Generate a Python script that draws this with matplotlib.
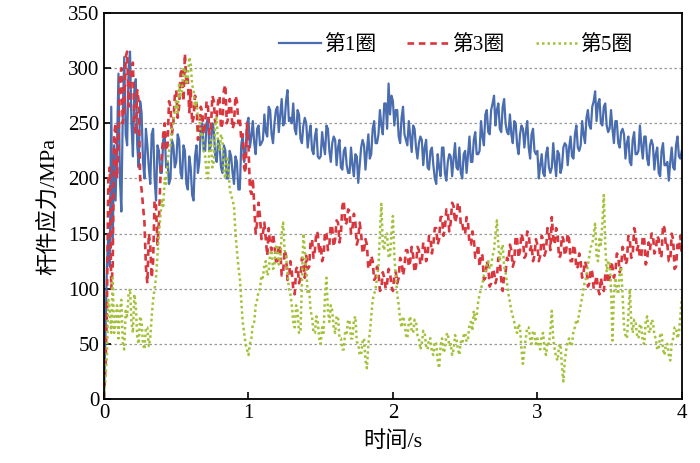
import numpy as np
import matplotlib
matplotlib.use("Agg")
import matplotlib.pyplot as plt

# valeurs lues sur la figure, pas de 0.01 s
temps = np.linspace(0, 4, 401)

quan1 = [0, 60, 120, 150, 120, 265, 140, 230, 180, 230,
         295, 200, 170, 260, 310, 240, 230, 300, 315, 250,
         220, 280, 290, 230, 210, 270, 260, 215, 200, 245,
         230, 210, 195, 240, 245, 200, 180, 230, 225, 205,
         205, 235, 240, 210, 215, 195, 200, 235, 230, 210,
         215, 240, 235, 205, 200, 230, 225, 195, 190, 220,
         210, 185, 180, 220, 230, 205, 215, 245, 250, 225,
         225, 250, 255, 225, 230, 250, 245, 220, 215, 235,
         230, 210, 205, 230, 225, 200, 200, 225, 220, 205,
         195, 220, 215, 190, 190, 230, 240, 215, 225, 250,
         255, 228, 238, 252, 232, 222, 245, 248, 230, 232,
         235, 258, 242, 238, 265, 262, 240, 232, 250, 262,
         265, 242, 258, 272, 248, 250, 270, 280, 252, 255,
         250, 268, 245, 240, 262, 258, 236, 232, 248, 255,
         250, 228, 240, 248, 226, 222, 238, 245, 220, 218,
         220, 242, 230, 222, 248, 245, 225, 215, 232, 238,
         235, 212, 228, 235, 210, 208, 225, 228, 212, 205,
         205, 228, 212, 202, 222, 220, 196, 212, 228, 235,
         230, 208, 225, 240, 218, 222, 245, 252, 232, 232,
         240, 262, 248, 240, 268, 268, 245, 286, 258, 275,
         270, 248, 262, 262, 238, 232, 255, 265, 240, 235,
         230, 252, 238, 224, 248, 245, 228, 218, 232, 238,
         235, 212, 228, 235, 210, 208, 225, 228, 212, 200,
         195, 222, 210, 202, 228, 228, 205, 198, 215, 222,
         220, 202, 218, 232, 210, 208, 228, 205, 200, 222,
         225, 205, 222, 238, 215, 215, 235, 242, 222, 222,
         225, 252, 238, 230, 258, 262, 242, 240, 262, 268,
         275, 248, 262, 268, 245, 242, 265, 272, 250, 242,
         240, 258, 240, 232, 252, 250, 230, 222, 240, 248,
         245, 228, 242, 252, 228, 218, 240, 245, 225, 222,
         225, 200, 212, 222, 205, 202, 222, 228, 210, 205,
         210, 232, 215, 202, 225, 222, 205, 210, 228, 232,
         230, 212, 228, 238, 220, 218, 240, 248, 228, 225,
         230, 252, 240, 232, 255, 262, 248, 245, 265, 270,
         279, 252, 268, 272, 250, 248, 265, 268, 248, 242,
         245, 262, 245, 232, 252, 252, 232, 228, 242, 245,
         240, 218, 232, 238, 215, 212, 235, 242, 222, 222,
         225, 248, 230, 218, 238, 238, 218, 212, 230, 235,
         230, 208, 222, 228, 205, 202, 225, 232, 212, 212,
         215, 198, 215, 228, 210, 208, 230, 238, 220, 218,
         225]

quan3 = [0, 30, 80, 200, 210, 100, 120, 240, 250, 200,
         230, 290, 300, 250, 260, 310, 315, 265, 280, 300,
         305, 250, 240, 280, 270, 200, 190, 175, 160, 120,
         105, 150, 140, 110, 125, 180, 175, 140, 160, 200,
         220, 240, 250, 225, 230, 270, 265, 240, 250, 275,
         280, 255, 265, 295, 300, 270, 313, 285, 290, 260,
         280, 250, 255, 275, 270, 235, 240, 265, 260, 240,
         250, 270, 265, 240, 245, 275, 270, 250, 255, 270,
         275, 245, 250, 280, 285, 250, 255, 272, 265, 245,
         250, 275, 270, 250, 255, 235, 240, 210, 205, 250,
         230, 190, 186, 200, 175, 150, 160, 178, 165, 145,
         150, 160, 145, 130, 155, 140, 135, 150, 140, 125,
         125, 140, 135, 112, 115, 135, 130, 108, 110, 125,
         115, 100, 95, 118, 120, 105, 110, 128, 125, 110,
         130, 118, 120, 142, 145, 128, 135, 152, 150, 132,
         140, 125, 130, 152, 150, 135, 140, 158, 155, 138,
         145, 162, 160, 142, 150, 175, 180, 158, 160, 172,
         170, 150, 155, 168, 160, 140, 145, 160, 150, 132,
         135, 145, 140, 118, 120, 130, 125, 108, 110, 120,
         115, 98, 100, 115, 110, 100, 105, 118, 115, 102,
         98, 112, 115, 105, 110, 128, 125, 112, 120, 135,
         135, 120, 125, 138, 130, 115, 120, 138, 135, 122,
         125, 142, 140, 125, 130, 148, 145, 132, 140, 155,
         155, 140, 145, 165, 165, 148, 155, 172, 170, 152,
         160, 178, 175, 160, 165, 178, 177, 158, 160, 150,
         150, 165, 160, 140, 140, 152, 145, 128, 130, 140,
         120, 132, 130, 108, 110, 125, 120, 102, 105, 118,
         115, 105, 110, 128, 125, 108, 98, 112, 115, 128,
         125, 140, 135, 120, 125, 148, 145, 128, 135, 150,
         145, 128, 130, 152, 150, 135, 140, 125, 130, 145,
         140, 125, 130, 148, 145, 130, 135, 155, 150, 135,
         165, 145, 140, 155, 150, 128, 130, 148, 145, 130,
         135, 150, 145, 125, 125, 140, 135, 118, 120, 132,
         125, 110, 115, 125, 120, 102, 105, 118, 115, 100,
         105, 112, 100, 95, 110, 102, 98, 112, 115, 105,
         110, 125, 120, 110, 115, 132, 130, 115, 120, 138,
         135, 122, 125, 148, 145, 128, 130, 155, 150, 135,
         140, 128, 130, 148, 145, 122, 125, 142, 135, 150,
         150, 132, 135, 148, 145, 128, 130, 158, 155, 138,
         140, 125, 125, 150, 145, 118, 120, 140, 135, 148,
         130]

quan5 = [0, 20, 40, 90, 80, 60, 110, 60, 70, 85,
         55, 80, 90, 50, 45, 80, 75, 95, 100, 70,
         60, 95, 85, 55, 50, 75, 70, 50, 45, 65,
         65, 48, 55, 75, 90, 100, 110, 130, 150, 165,
         180, 175, 200, 195, 215, 225, 230, 245, 250, 262,
         270, 260, 285, 275, 280, 300, 300, 285, 290, 310,
         305, 285, 280, 265, 270, 255, 255, 238, 240, 225,
         220, 205, 200, 230, 235, 210, 215, 250, 255, 230,
         225, 240, 235, 205, 200, 220, 215, 190, 185, 180,
         175, 150, 135, 120, 110, 90, 70, 60, 50, 45,
         40, 50, 55, 68, 70, 85, 90, 98, 100, 112,
         110, 122, 125, 112, 115, 132, 135, 118, 120, 138,
         140, 122, 125, 150, 160, 135, 130, 115, 100, 95,
         85, 70, 65, 85, 80, 60, 60, 105, 150, 135,
         120, 95, 100, 80, 75, 60, 60, 75, 70, 55,
         50, 65, 60, 95, 110, 80, 70, 85, 80, 65,
         60, 75, 75, 55, 55, 45, 45, 62, 60, 72,
         70, 55, 55, 72, 75, 52, 50, 40, 40, 52,
         55, 35, 28, 50, 60, 75, 90, 95, 100, 110,
         120, 150, 177, 140, 135, 150, 150, 128, 130, 150,
         166, 130, 110, 95, 85, 72, 65, 75, 70, 58,
         55, 70, 75, 62, 60, 72, 70, 58, 55, 45,
         50, 62, 60, 48, 45, 55, 55, 42, 40, 52,
         50, 35, 28, 48, 55, 42, 45, 58, 60, 48,
         50, 40, 45, 58, 55, 45, 40, 52, 50, 58,
         60, 52, 55, 68, 70, 62, 80, 72, 75, 88,
         95, 100, 105, 112, 115, 122, 125, 118, 120, 130,
         135, 150, 162, 140, 125, 135, 140, 120, 115, 105,
         95, 88, 80, 75, 70, 62, 60, 68, 65, 45,
         32, 45, 55, 65, 65, 55, 50, 62, 60, 50,
         55, 48, 45, 58, 60, 45, 40, 52, 50, 62,
         80, 55, 45, 38, 35, 48, 50, 30, 16, 35,
         45, 52, 55, 48, 50, 62, 65, 72, 70, 78,
         85, 92, 100, 108, 110, 122, 130, 138, 140, 150,
         159, 130, 125, 145, 140, 160, 185, 140, 115, 125,
         125, 100, 53, 95, 110, 100, 95, 115, 120, 95,
         65, 58, 55, 75, 100, 70, 60, 72, 70, 58,
         55, 68, 65, 52, 50, 70, 75, 62, 60, 72,
         70, 58, 55, 45, 45, 58, 60, 45, 40, 50,
         50, 40, 35, 50, 55, 65, 65, 55, 60, 75,
         92]

noms = ["第1圈", "第3圈", "第5圈"]
yticks = [0, 50, 100, 150, 200, 250, 300, 350]
xticks = [0, 1, 2, 3, 4]

polices = ["Liberation Serif", "Noto Sans CJK SC"]
plt.rcParams["font.family"] = polices

fig = plt.figure(figsize=(7, 4.63), dpi=100)
ax = fig.add_axes([0.1486, 0.138, 0.8254, 0.834])

ax.plot(temps, quan1, color="#4a6db0", lw=1.6, ls="-", label=noms[0])
ax.plot(temps, quan3, color="#d9363e", lw=1.9, ls=(0, (2.5, 1.8)), label=noms[1])
ax.plot(temps, quan5, color="#a3c23a", lw=1.8, ls=(0, (1, 1.2)), label=noms[2])

ax.set_xlim(0, 4)
ax.set_ylim(0, 350)
ax.set_xticks(xticks)
ax.set_yticks(yticks)
ax.tick_params(direction="in", length=5, width=1.2, labelsize=15,
               top=False, right=False)
for s in ax.spines.values():
    s.set_linewidth(1.3)

# grille horizontale en pointillés
for v in yticks[1:-1]:
    ax.axhline(v, color="#999999", lw=0.9, ls=(0, (2, 2)), zorder=0)

ax.set_xlabel("时间/s", fontsize=16, labelpad=6)
ax.set_ylabel("杆件应力/MPa", fontsize=16, labelpad=6)

leg = ax.legend(loc="upper right", ncol=3, frameon=False, fontsize=15,
                handlelength=2.0, columnspacing=1.5, handletextpad=0.15,
                borderaxespad=0.3, bbox_to_anchor=(0.94, 0.98))

fig.savefig("out.png", dpi=100)
